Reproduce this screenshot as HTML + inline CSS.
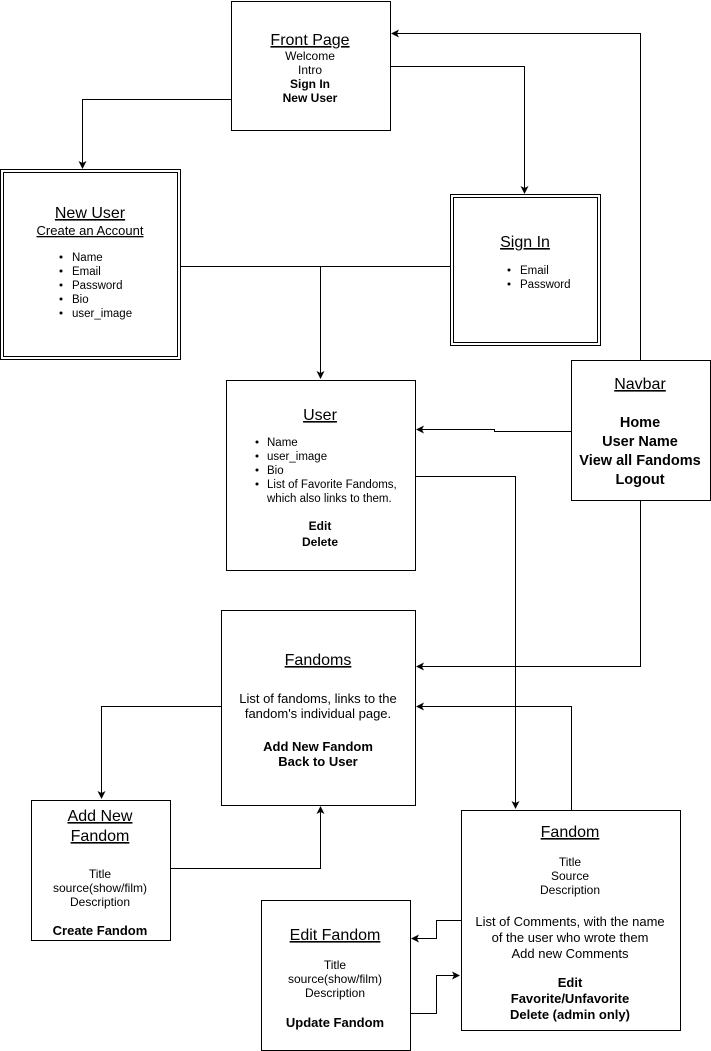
<!DOCTYPE html>
<html><head><style>body{margin:0;background:#fff}svg{display:block}text{font-family:"Liberation Sans",Arial,sans-serif;fill:#000}</style></head><body>
<svg width="711" height="1051" viewBox="0 0 711 1051" xmlns="http://www.w3.org/2000/svg">
<defs><marker id="a" markerWidth="8" markerHeight="8" refX="7" refY="4" orient="auto" markerUnits="userSpaceOnUse"><path d="M0,0 L8,4 L0,8 L2,4 z" fill="#000"/></marker></defs>
<g fill="none" stroke="#000" stroke-width="1">
<rect x="231.5" y="1.5" width="159" height="129"/>
<rect x="0.5" y="169.5" width="180" height="190"/><rect x="3.5" y="172.5" width="174" height="184"/>
<rect x="450.5" y="194.5" width="150" height="151"/><rect x="453.5" y="197.5" width="144" height="145"/>
<rect x="226.5" y="380.5" width="189" height="190"/>
<rect x="571.5" y="360.5" width="139" height="140"/>
<rect x="221.5" y="610.5" width="194" height="195"/>
<rect x="31.5" y="800.5" width="139" height="140"/>
<rect x="461.5" y="810.5" width="219" height="220"/>
<rect x="261.5" y="900.5" width="149" height="150"/>
<polyline points="231,99.5 82.5,99.5 82.5,168" marker-end="url(#a)"/>
<polyline points="390,66.5 524.5,66.5 524.5,193" marker-end="url(#a)"/>
<polyline points="640.5,360 640.5,33.5 392,33.5" marker-end="url(#a)"/>
<polyline points="180,266.5 451,266.5"/>
<polyline points="320.5,266 320.5,378" marker-end="url(#a)"/>
<polyline points="571,431.5 494.5,431.5 494.5,429.5 417,429.5" marker-end="url(#a)"/>
<polyline points="415,476.5 515.5,476.5 515.5,808" marker-end="url(#a)"/>
<polyline points="640.5,500 640.5,666.5 417,666.5" marker-end="url(#a)"/>
<polyline points="571.5,810 571.5,706.5 417,706.5" marker-end="url(#a)"/>
<polyline points="221,706.5 101.5,706.5 101.5,798" marker-end="url(#a)"/>
<polyline points="170,868.5 320.5,868.5 320.5,807" marker-end="url(#a)"/>
<polyline points="461,920.5 436.5,920.5 436.5,938.5 412,938.5" marker-end="url(#a)"/>
<polyline points="410,1013.5 436.5,1013.5 436.5,975.5 459,975.5" marker-end="url(#a)"/>
</g>
<g text-anchor="middle" font-size="12">
<text x="310" y="45" font-size="16" text-decoration="underline">Front Page</text>
<text x="310" y="60">Welcome</text><text x="310" y="74">Intro</text>
<text x="310" y="88" font-weight="bold">Sign In</text><text x="310" y="102" font-weight="bold">New User</text>
<text x="90" y="218" font-size="16" text-decoration="underline">New User</text>
<text x="90" y="235" font-size="13" text-decoration="underline">Create an Account</text>
<text x="525" y="247" font-size="16" text-decoration="underline">Sign In</text>
<text x="320" y="420" font-size="16" text-decoration="underline">User</text>
<text x="320" y="530" font-weight="bold">Edit</text><text x="320" y="546" font-weight="bold">Delete</text>
<text x="640" y="389" font-size="16" text-decoration="underline">Navbar</text>
<g font-size="14.5" font-weight="bold"><text x="640" y="427">Home</text><text x="640" y="446">User Name</text><text x="640" y="465">View all Fandoms</text><text x="640" y="484">Logout</text></g>
<text x="318" y="665" font-size="16" text-decoration="underline">Fandoms</text>
<text x="318" y="703" font-size="13">List of fandoms, links to the</text>
<text x="318" y="718" font-size="13">fandom's individual page.</text>
<text x="318" y="751" font-weight="bold" font-size="13">Add New Fandom</text><text x="318" y="766" font-weight="bold" font-size="13">Back to User</text>
<text x="100" y="821" font-size="16" text-decoration="underline">Add New</text>
<text x="100" y="841" font-size="16" text-decoration="underline">Fandom</text>
<text x="100" y="878">Title</text><text x="100" y="892">source(show/film)</text><text x="100" y="906">Description</text>
<text x="100" y="935" font-weight="bold" font-size="13">Create Fandom</text>
<text x="570" y="837" font-size="16" text-decoration="underline">Fandom</text>
<text x="570" y="866">Title</text><text x="570" y="880">Source</text><text x="570" y="894">Description</text>
<text x="570" y="926" font-size="13">List of Comments, with the name</text>
<text x="570" y="942" font-size="13">of the user who wrote them</text>
<text x="570" y="958" font-size="13">Add new Comments</text>
<g font-weight="bold" font-size="13"><text x="570" y="987">Edit</text><text x="570" y="1003">Favorite/Unfavorite</text><text x="570" y="1019">Delete (admin only)</text></g>
<text x="335" y="940" font-size="16" text-decoration="underline">Edit Fandom</text>
<text x="335" y="969">Title</text><text x="335" y="983">source(show/film)</text><text x="335" y="997">Description</text>
<text x="335" y="1027" font-weight="bold" font-size="13">Update Fandom</text>
</g>
<g font-size="11.5">
<text x="72" y="261">Name</text><text x="72" y="275">Email</text><text x="72" y="289">Password</text><text x="72" y="303">Bio</text><text x="72" y="317">user_image</text>
<text x="520" y="274">Email</text><text x="520" y="288">Password</text>
<text x="267" y="446">Name</text><text x="267" y="460">user_image</text><text x="267" y="474">Bio</text><text x="267" y="488">List of Favorite Fandoms,</text><text x="267" y="502">which also links to them.</text>
</g>
<g fill="#000">
<circle cx="61" cy="257" r="1.5"/><circle cx="61" cy="271" r="1.5"/><circle cx="61" cy="285" r="1.5"/><circle cx="61" cy="299" r="1.5"/><circle cx="61" cy="313" r="1.5"/>
<circle cx="509" cy="270" r="1.5"/><circle cx="509" cy="284" r="1.5"/>
<circle cx="257" cy="442" r="1.5"/><circle cx="257" cy="456" r="1.5"/><circle cx="257" cy="470" r="1.5"/><circle cx="257" cy="484" r="1.5"/>
</g>
</svg>
</body></html>
